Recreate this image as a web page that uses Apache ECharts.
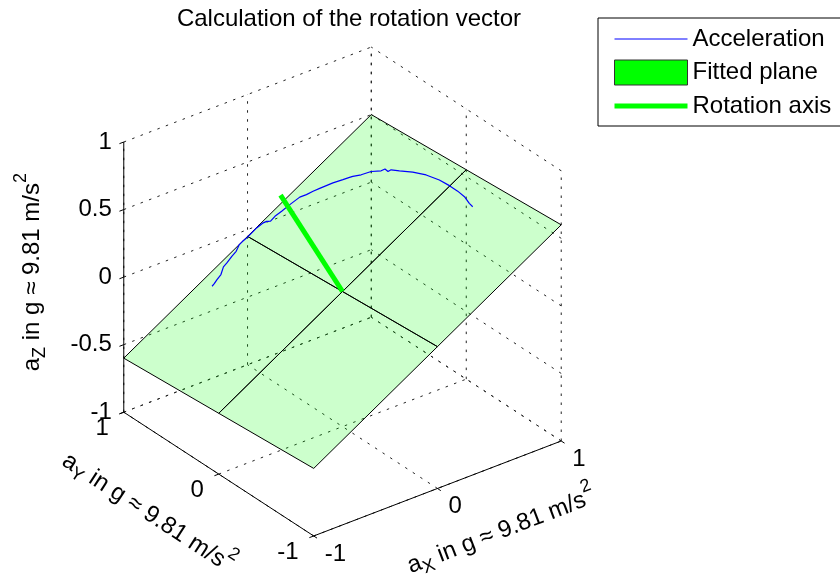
<!DOCTYPE html>
<html>
<head>
<meta charset="utf-8">
<script src="https://cdn.jsdelivr.net/npm/echarts@6/dist/echarts.min.js"></script>
<style>
  html, body { margin: 0; padding: 0; background: #fff; }
  #chart { width: 840px; height: 585px; }
</style>
</head>
<body>
<div id="chart"></div>
<script>
// Measured acceleration samples (in g)
const accX = [-0.364, -0.344, -0.315, -0.277, -0.230, -0.199, -0.150, -0.111, -0.067, -0.040,
              -0.010, 0.031, 0.071, 0.117, 0.135, 0.147, 0.186, 0.232, 0.291, 0.359,
              0.392, 0.429, 0.464, 0.532, 0.579, 0.610, 0.625, 0.659, 0.706, 0.739,
              0.760, 0.756, 0.774, 0.794, 0.827, 0.853, 0.866, 0.867, 0.864, 0.855,
              0.835, 0.828];
const accY = [0.899, 0.902, 0.911, 0.919, 0.954, 0.958, 0.970, 0.975, 0.999, 0.999,
              0.995, 0.996, 0.997, 0.987, 0.975, 0.949, 0.954, 0.943, 0.934, 0.918,
              0.891, 0.869, 0.845, 0.794, 0.750, 0.721, 0.706, 0.662, 0.618, 0.556,
              0.543, 0.506, 0.497, 0.435, 0.338, 0.231, 0.109, 0.004, -0.087, -0.170,
              -0.247, -0.292];
const accZ = [-0.245, -0.234, -0.219, -0.198, -0.174, -0.157, -0.131, -0.110, -0.087, -0.072,
              -0.055, -0.033, -0.011, 0.015, 0.025, 0.034, 0.054, 0.080, 0.113, 0.152,
              0.171, 0.193, 0.213, 0.253, 0.281, 0.300, 0.309, 0.329, 0.357, 0.379,
              0.391, 0.391, 0.401, 0.415, 0.438, 0.457, 0.471, 0.477, 0.479, 0.479,
              0.472, 0.470];

// Fitted plane on a 3x3 mesh: planeZ[row of planeY][column of planeX]
const planeX = [-1, 0, 1];
const planeY = [-1, 0, 1];
const planeZ = [
  [-0.50,  0.05, 0.60],
  [-0.55,  0.00, 0.55],
  [-0.60, -0.05, 0.50]
];

// Rotation axis: from the origin along the plane normal
const rotStart = [0, 0, 0];
const rotEnd = [-0.47, 0.04, 0.86];

// Axis ticks and their labels
const xTicks = [-1, 0, 1];
const yTicks = [-1, 0, 1];
const zTicks = [-1, -0.5, 0, 0.5, 1];
const xTickLabels = ['-1', '0', '1'];
const yTickLabels = ['-1', '0', '1'];
const zTickLabels = ['-1', '-0.5', '0', '0.5', '1'];
const axisNames = ['X', 'Y', 'Z'];
const axisUnit = ' in g \u2248 9.81 m/s';
const titleText = 'Calculation of the rotation vector';

// ---------------------------------------------------------------------------
const FONT = '"Liberation Sans", Arial, Helvetica, sans-serif';

// Orthographic 3-D view (azimuth -37.5 deg, elevation 30 deg)
const AZ = -37.5 * Math.PI / 180;
const EL = 30 * Math.PI / 180;
const cosA = Math.cos(AZ), sinA = Math.sin(AZ);
const sinE = Math.sin(EL), cosE = Math.cos(EL);
function proj(x, y, z) {
  return [x * cosA + y * sinA, -x * sinE * sinA + y * sinE * cosA + z * cosE];
}

// Screen scale of the projected view and where its origin lands
const S = 156;
const CX = 342.5, CY = 291.5;
// move a projected point by a pixel offset (dy downwards)
function shift(p, dx, dy) { return [p[0] + dx / S, p[1] - dy / S]; }

// Extent of the projected axis box -> cartesian grid
const boxCorners = [];
[-1, 1].forEach(x => [-1, 1].forEach(y => [-1, 1].forEach(z => boxCorners.push(proj(x, y, z)))));
const uMin = Math.min(...boxCorners.map(c => c[0]));
const uMax = Math.max(...boxCorners.map(c => c[0]));
const vMin = Math.min(...boxCorners.map(c => c[1]));
const vMax = Math.max(...boxCorners.map(c => c[1]));

// Dotted grid on the back walls (floor z=-1, wall y=1, wall x=1)
const gridSegs = [];
xTicks.forEach(x => gridSegs.push([proj(x, -1, -1), proj(x, 1, -1)]));
yTicks.forEach(y => gridSegs.push([proj(-1, y, -1), proj(1, y, -1)]));
xTicks.forEach(x => gridSegs.push([proj(x, 1, -1), proj(x, 1, 1)]));
zTicks.forEach(z => gridSegs.push([proj(-1, 1, z), proj(1, 1, z)]));
yTicks.forEach(y => gridSegs.push([proj(1, y, -1), proj(1, y, 1)]));
zTicks.forEach(z => gridSegs.push([proj(1, -1, z), proj(1, 1, z)]));

// Solid axis lines with their tick marks
const TICK = 0.035;
const axisSegs = [
  [proj(-1, -1, -1), proj(1, -1, -1)],
  [proj(-1, 1, -1), proj(-1, -1, -1)],
  [proj(-1, 1, -1), proj(-1, 1, 1)]
];
xTicks.forEach(x => axisSegs.push([proj(x, -1, -1), proj(x, -1 - TICK, -1)]));
yTicks.forEach(y => axisSegs.push([proj(-1, y, -1), proj(-1 - TICK, y, -1)]));
zTicks.forEach(z => axisSegs.push([proj(-1, 1, z), proj(-1 - TICK, 1, z)]));

// Plane cells as projected quads
const planeCells = [];
for (let j = 0; j < planeY.length - 1; j++) {
  for (let i = 0; i < planeX.length - 1; i++) {
    const quad = [[i, j], [i + 1, j], [i + 1, j + 1], [i, j + 1]]
      .map(([a, b]) => proj(planeX[a], planeY[b], planeZ[b][a]));
    planeCells.push([].concat(...quad));
  }
}

// Text items: tick labels and axis titles (subscript / superscript via padded rich tokens)
const rich = {
  n: { fontSize: 24, lineHeight: 30, fontFamily: FONT, fill: '#000' },
  s: { fontSize: 18, lineHeight: 18, fontFamily: FONT, fill: '#000', padding: [14, 0, 0, 0] },
  p: { fontSize: 18, lineHeight: 18, fontFamily: FONT, fill: '#000', padding: [0, 0, 24, 0] }
};
const textItems = [];
zTicks.forEach((z, k) => textItems.push({
  pos: shift(proj(-1, 1, z), -12, 0), text: zTickLabels[k], align: 'right', rot: 0
}));
yTicks.forEach((y, k) => textItems.push({
  pos: shift(proj(-1, y, -1), -15, 16.5), text: yTickLabels[k], align: 'right', rot: 0
}));
xTicks.forEach((x, k) => textItems.push({
  pos: shift(proj(x, -1, -1), 11, 18), text: xTickLabels[k], align: 'left', rot: 0
}));
function axisAngle(p0, p1) {
  return Math.atan2(p1[1] - p0[1], p1[0] - p0[0]);
}
function axisTitle(letter) {
  return '{n|a}{s|' + letter + '}{n|' + axisUnit + '}{p|2}';
}
textItems.push({
  pos: shift(proj(0, -1, -1), 64, 43), text: axisTitle(axisNames[0]), align: 'center', rich: true,
  rot: axisAngle(proj(-1, -1, -1), proj(1, -1, -1))
});
textItems.push({
  pos: shift(proj(-1, 0, -1), -71, 39), text: axisTitle(axisNames[1]), align: 'center', rich: true,
  rot: axisAngle(proj(-1, 1, -1), proj(-1, -1, -1))
});
textItems.push({
  pos: shift(proj(-1, 1, 0), -91, -5), text: axisTitle(axisNames[2]), align: 'center', rich: true,
  rot: axisAngle(proj(-1, 1, -1), proj(-1, 1, 1))
});

function segmentSeries(name, segs, style, z) {
  return {
    type: 'custom', name: name, coordinateSystem: 'cartesian2d', silent: true, z: z, clip: false,
    data: segs.map(s => [s[0][0], s[0][1], s[1][0], s[1][1]]),
    encode: { x: [0, 2], y: [1, 3] },
    renderItem: function (params, api) {
      const a = api.coord([api.value(0), api.value(1)]);
      const b = api.coord([api.value(2), api.value(3)]);
      return { type: 'line', shape: { x1: a[0], y1: a[1], x2: b[0], y2: b[1] }, style: Object.assign({ fill: null }, style) };
    }
  };
}

const chart = echarts.init(document.getElementById('chart'), null, { renderer: 'canvas' });
chart.setOption({
  animation: false,
  backgroundColor: '#fff',
  title: {
    text: titleText, left: 349, top: 7, padding: 0, textAlign: 'center',
    textStyle: { fontSize: 24, fontWeight: 'normal', fontFamily: FONT, color: '#000' }
  },
  legend: {
    orient: 'vertical', left: 598, top: 18,
    padding: [9, 12, 8, 14], itemGap: 8.5, itemWidth: 73, itemHeight: 25, itemTextGap: 8,
    borderColor: '#000', borderWidth: 1, backgroundColor: '#fff', selectedMode: false,
    textStyle: { fontSize: 24, fontFamily: FONT, color: '#000' },
    data: [
      { name: 'Acceleration', itemStyle: { opacity: 0 }, lineStyle: { width: 1, color: '#0000ff' } },
      { name: 'Fitted plane', icon: 'rect', itemStyle: { color: '#00ff00', borderColor: '#333', borderWidth: 1 } },
      { name: 'Rotation axis', itemStyle: { opacity: 0 }, lineStyle: { width: 5, color: '#00ff00' } }
    ]
  },
  grid: {
    left: CX + S * uMin, top: CY - S * vMax,
    width: S * (uMax - uMin), height: S * (vMax - vMin)
  },
  xAxis: { type: 'value', min: uMin, max: uMax, show: false },
  yAxis: { type: 'value', min: vMin, max: vMax, show: false },
  series: [
    segmentSeries('grid', gridSegs, { stroke: '#222', lineWidth: 1, lineDash: [2.5, 6.5] }, 1),
    {
      type: 'custom', name: 'Fitted plane', coordinateSystem: 'cartesian2d', silent: true, z: 2, clip: false,
      itemStyle: { color: '#00ff00' },
      data: planeCells,
      encode: { x: [0, 2, 4, 6], y: [1, 3, 5, 7] },
      renderItem: function (params, api) {
        const pts = [0, 1, 2, 3].map(k => api.coord([api.value(2 * k), api.value(2 * k + 1)]));
        return { type: 'polygon', shape: { points: pts }, style: { fill: 'rgba(0,255,0,0.2)', stroke: '#000', lineWidth: 1 } };
      }
    },
    segmentSeries('axes', axisSegs, { stroke: '#000', lineWidth: 1 }, 3),
    {
      type: 'line', name: 'Acceleration', z: 4, silent: true, clip: false, symbol: 'none',
      data: accX.map((x, i) => proj(x, accY[i], accZ[i])),
      lineStyle: { color: '#0000ff', width: 1.2 }, itemStyle: { color: '#0000ff' }
    },
    {
      type: 'line', name: 'Rotation axis', z: 5, silent: true, clip: false, symbol: 'none',
      data: [proj(...rotStart), proj(...rotEnd)],
      lineStyle: { color: '#00ff00', width: 5, cap: 'butt' }, itemStyle: { color: '#00ff00' }
    },
    {
      type: 'custom', name: 'labels', coordinateSystem: 'cartesian2d', silent: true, z: 6, clip: false,
      data: textItems.map(t => t.pos),
      encode: { x: 0, y: 1 },
      renderItem: function (params, api) {
        const t = textItems[params.dataIndex];
        const p = api.coord([api.value(0), api.value(1)]);
        const style = {
          text: t.text, fill: '#000', fontSize: 24, fontFamily: FONT,
          align: t.align, verticalAlign: 'middle'
        };
        if (t.rich) style.rich = rich;
        return { type: 'text', x: p[0], y: p[1], rotation: t.rot, style: style };
      }
    }
  ]
});
</script>
</body>
</html>
